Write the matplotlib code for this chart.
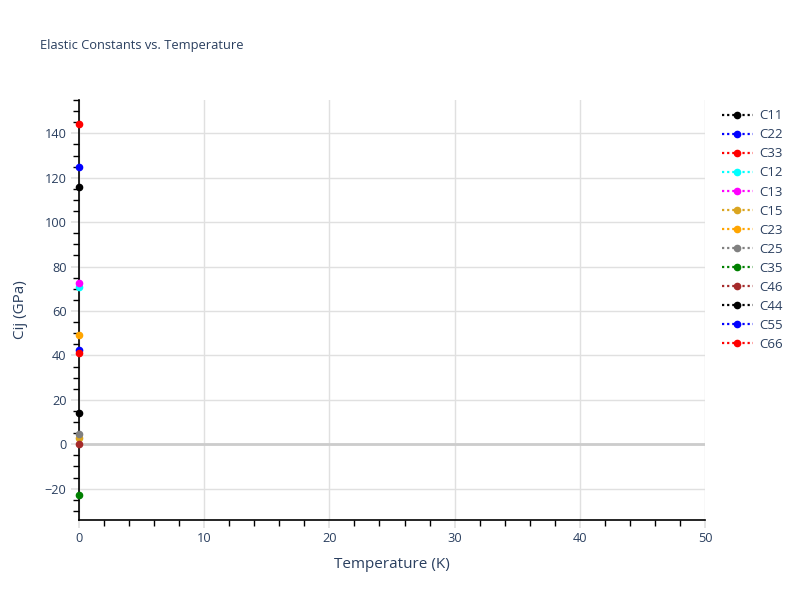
import matplotlib
matplotlib.use("Agg")
import matplotlib.pyplot as plt
from matplotlib.ticker import MultipleLocator

names = ["C11", "C22", "C33", "C12", "C13", "C15", "C23", "C25", "C35", "C46", "C44", "C55", "C66"]
temps = [0.0]
values = [116.0, 125.0, 144.0, 71.0, 72.5, 3.0, 49.0, 4.5, -22.8, 0.0, 14.1, 42.3, 41.0]
colors = ["black", "blue", "red", "cyan", "magenta", "goldenrod", "orange", "gray",
          "green", "brown", "black", "blue", "red"]

txt = "#2a3f5f"
grid = "#e0e0e0"
plt.rcParams['font.family'] = ['Open Sans', 'DejaVu Sans']

fig = plt.figure(figsize=(8, 6), dpi=100)
ax = fig.add_axes([79/800, 80/600, 626/800, 420/600])

for n, v, c in zip(names, values, colors):
    ax.plot(temps, [v], linestyle=(0, (1, 1.3)), color=c, marker="o", markersize=4.5,
            linewidth=1.6, clip_on=False, zorder=5, label=n)

ax.set_xlim(0, 50)
ax.set_ylim(-34.1, 155)
ax.xaxis.set_major_locator(MultipleLocator(10))
ax.xaxis.set_minor_locator(MultipleLocator(2))
ax.yaxis.set_major_locator(MultipleLocator(20))
ax.yaxis.set_minor_locator(MultipleLocator(5))
ax.grid(True, which="major", color=grid, linewidth=1)
ax.axhline(0, color="#cccccc", linewidth=2, zorder=1)
ax.set_axisbelow(True)

for s in ["top", "right"]:
    ax.spines[s].set_visible(False)
for s in ["left", "bottom"]:
    ax.spines[s].set_color("black")
    ax.spines[s].set_linewidth(1.2)

ax.tick_params(which="major", length=6, color=grid, width=1.2, labelsize=9.2, labelcolor=txt, pad=3)
ax.tick_params(which="minor", length=4, color="black", width=1)

ax.set_xlabel("Temperature (K)", fontsize=11, color=txt, labelpad=8)
ax.set_ylabel("Cij (GPa)", fontsize=11, color=txt, labelpad=12)
fig.text(40/800, 1 - 46/600, "Elastic Constants vs. Temperature", fontsize=9.3, color=txt,
         va="center", ha="left")

leg = ax.legend(loc="upper left", bbox_to_anchor=(717/800, 1 - 104/600), bbox_transform=fig.transFigure,
                frameon=False, fontsize=9.5, labelcolor=txt, handlelength=2.3, handletextpad=0.5,
                labelspacing=0.46, borderaxespad=0)

fig.savefig("out.png", dpi=100)
